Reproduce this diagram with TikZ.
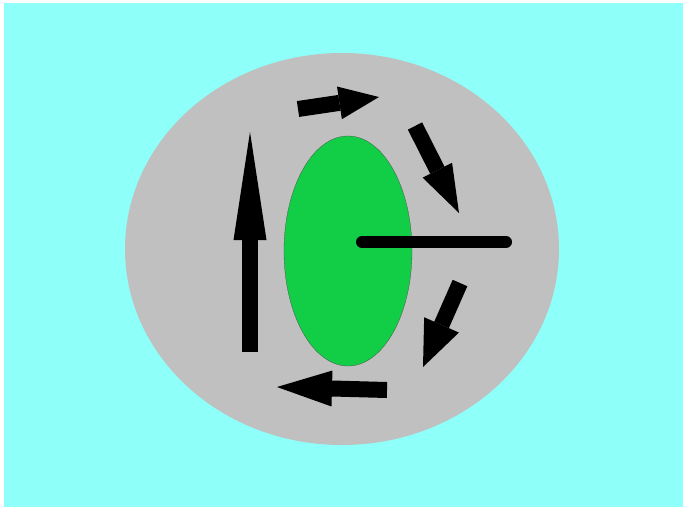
\documentclass[tikz,border=0pt]{standalone}
\usetikzlibrary{arrows.meta}
\definecolor{skycyan}{RGB}{143,255,250}
\definecolor{discgray}{RGB}{192,192,192}
\definecolor{hubgreen}{RGB}{17,206,70}
\tikzset{
  fatarr/.style 2 args={line width=8mm, -{Triangle[length=#1, width=#2, line width=0pt]}},
  hand/.style={line width=6mm, line cap=round},
}
\begin{document}
\begin{tikzpicture}[x=0.5mm, y=-0.5mm]
\useasboundingbox (0,0) rectangle (687,510);
\fill[white] (0,0) rectangle (687,510);
\fill[skycyan] (4,3) rectangle (683,507);

% disc and hub
\fill[discgray] (342,249) ellipse (217 and 196);
\filldraw[fill=hubgreen, draw=black!70, thin] (348,251) ellipse (64 and 115);
\draw[hand] (362,242) -- (506,242);

% rotation arrows
\draw[fatarr={54mm}{16.5mm}] (250,352) -- (250,132);
\draw[fatarr={20mm}{16.5mm}] (298,109) -- (379,97);
\draw[fatarr={24mm}{16.5mm}] (415,126) -- (459,213);
\draw[fatarr={23mm}{19mm}] (460,283) -- (423,367);
\draw[fatarr={27.5mm}{18mm}] (387,390) -- (277,387);

\end{tikzpicture}
\end{document}
